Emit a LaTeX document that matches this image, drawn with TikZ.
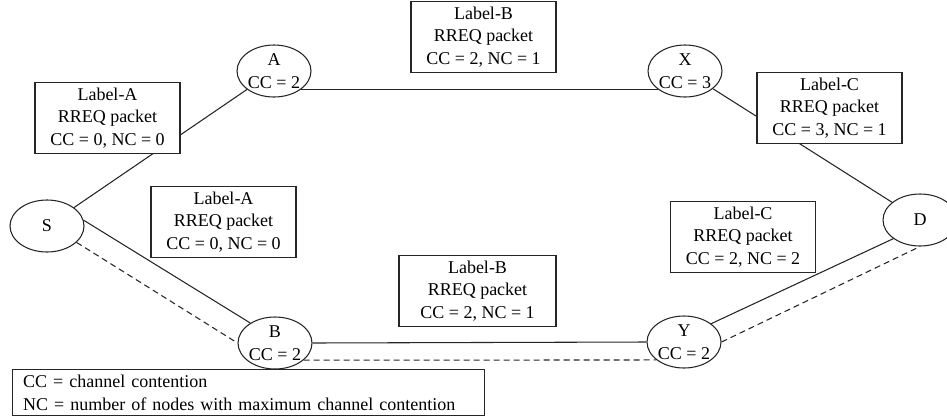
\documentclass[tikz,border=0pt]{standalone}
\usepackage{fontspec}
\setmainfont{Liberation Serif}
\usetikzlibrary{shapes.geometric}
\newcommand{\figfont}{\fontsize{13.5}{17}\selectfont}
\tikzset{
  station/.style={ellipse, draw=black!85, line width=0.8pt, fill=white,
    minimum width=55.5pt, minimum height=39pt, inner sep=0pt, align=center, font=\figfont},
  pktbox/.style={rectangle, draw=black!85, line width=0.8pt, fill=white, align=center,
    minimum width=108.75pt, minimum height=53pt, inner sep=2pt, font=\figfont},
  link/.style={line width=0.8pt, black!85},
  backup/.style={link, dash pattern=on 4.5pt off 3pt}
}

\begin{document}
\begin{tikzpicture}[x=0.75pt,y=-0.75pt]
\useasboundingbox (0,0) rectangle (947,419);

% stations
\node[station] (S) at (47,226) {S};
\node[station] (A) at (274,71) {A\\CC = 2};
\node[station] (X) at (685,71) {X\\CC = 3};
\node[station] (D) at (920,220) {D};
\node[station] (B) at (275,343) {B\\CC = 2};
\node[station] (Y) at (684,342) {Y\\CC = 2};

% links
\draw[link] (S) -- (A);
\draw[link] (A.-34) -- (X.214);
\draw[link] (X) -- (D);
\draw[link] (S.9) -- (B.141);
\draw[link] (B.east) -- (Y.west);
\draw[link] (Y.34) -- (D.215);
\draw[backup] (S.-29) -- (B.180);
\draw[backup] (B.-31) -- (Y.213);
\draw[backup] (Y.east) -- (D.south);

% RREQ packets
\foreach \name/\pos/\lab/\cnt in {la1/{(107.5,118)}/A/{0, NC = 0},
    lb1/{(483.5,37)}/B/{2, NC = 1}, lc1/{(829.5,108)}/C/{3, NC = 1},
    la2/{(223.5,222)}/A/{0, NC = 0}, lc2/{(743,237)}/C/{2, NC = 2}} {
  \node[pktbox] (\name) at \pos {Label-\lab\\RREQ packet\\CC = \cnt};
}
\node[pktbox, minimum width=117.75pt] (lb2) at (477.5,291) {Label-B\\RREQ packet\\CC = 2, NC = 1};

% legend
\node[draw=black!85, line width=0.8pt, anchor=north west, align=left, font=\figfont,
  text width=338pt, inner xsep=8pt, inner ysep=2.5pt, minimum height=34.5pt] (key) at (12,369)
  {CC = channel contention\\NC = number of nodes with maximum channel contention};
\end{tikzpicture}
\end{document}
